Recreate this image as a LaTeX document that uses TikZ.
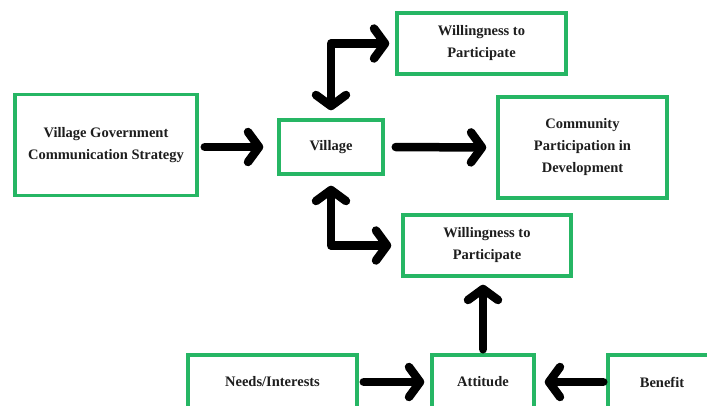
\documentclass[tikz,border=0pt]{standalone}
\usepackage{fontspec}
\setmainfont{Liberation Serif}
\usetikzlibrary{arrows.meta}
\definecolor{boxgreen}{RGB}{38,182,100}
\definecolor{txt}{RGB}{30,30,30}
\begin{document}
\begin{tikzpicture}[x=1pt,y=-1pt,
  box/.style={draw=boxgreen,line width=3.5pt,fill=white,align=center,inner sep=0pt,
    font=\fontsize{14.5}{22}\selectfont\bfseries,text=txt},
  arr/.style={line width=8.5pt,line cap=round,line join=round,
    -{Straight Barb[length=11pt,width=30pt,line cap=round,line join=round]}},
  barr/.style={line width=8.5pt,line cap=round,line join=round,
    {Straight Barb[length=11pt,width=30pt,line cap=round,line join=round]}-{Straight Barb[length=11pt,width=30pt,line cap=round,line join=round]}}]
\useasboundingbox (0,0) rectangle (707,405);
\fill[white] (0,0) rectangle (707,405);
\node[box,minimum width=182pt,minimum height=101pt] (vgcs) at (106,145) {Village Government\\Communication Strategy};
\node[box,minimum width=104pt,minimum height=54pt] (village) at (331,147) {Village};
\node[box,minimum width=169pt,minimum height=61pt] (w1) at (481.5,43.5) {Willingness to\\Participate};
\node[box,minimum width=169pt,minimum height=101pt] (comm) at (582.5,147.5) {Community\\Participation in\\Development};
\node[box,minimum width=168pt,minimum height=61pt] (w2) at (487,245.5) {Willingness to\\Participate};
\node[box,minimum width=169pt,minimum height=54pt] (needs) at (272.5,382) {Needs/Interests};
\node[box,minimum width=102pt,minimum height=54pt] (att) at (483,382) {Attitude};
\node[box,minimum width=108pt,minimum height=54pt] (ben) at (662,382) {Benefit};

\draw[arr,shorten <=6pt,shorten >=14pt] (vgcs.east |- village.west) -- (village.west);
\draw[arr,shorten <=11pt,shorten >=10pt] (village.east) -- (comm.west);
\draw[barr,shorten <=6pt,shorten >=8pt] (w1.west) -| (village.north);
\draw[barr,shorten <=10pt,shorten >=10pt] (w2.west) -| (village.south);
\draw[arr,shorten <=4pt,shorten >=7pt] (att.north) -- (att.north |- w2.south);
\draw[arr,shorten <=5pt,shorten >=6pt] (needs.east) -- (att.west);
\draw[arr,shorten <=3pt,shorten >=9pt] (ben.west) -- (att.east);
\end{tikzpicture}
\end{document}
